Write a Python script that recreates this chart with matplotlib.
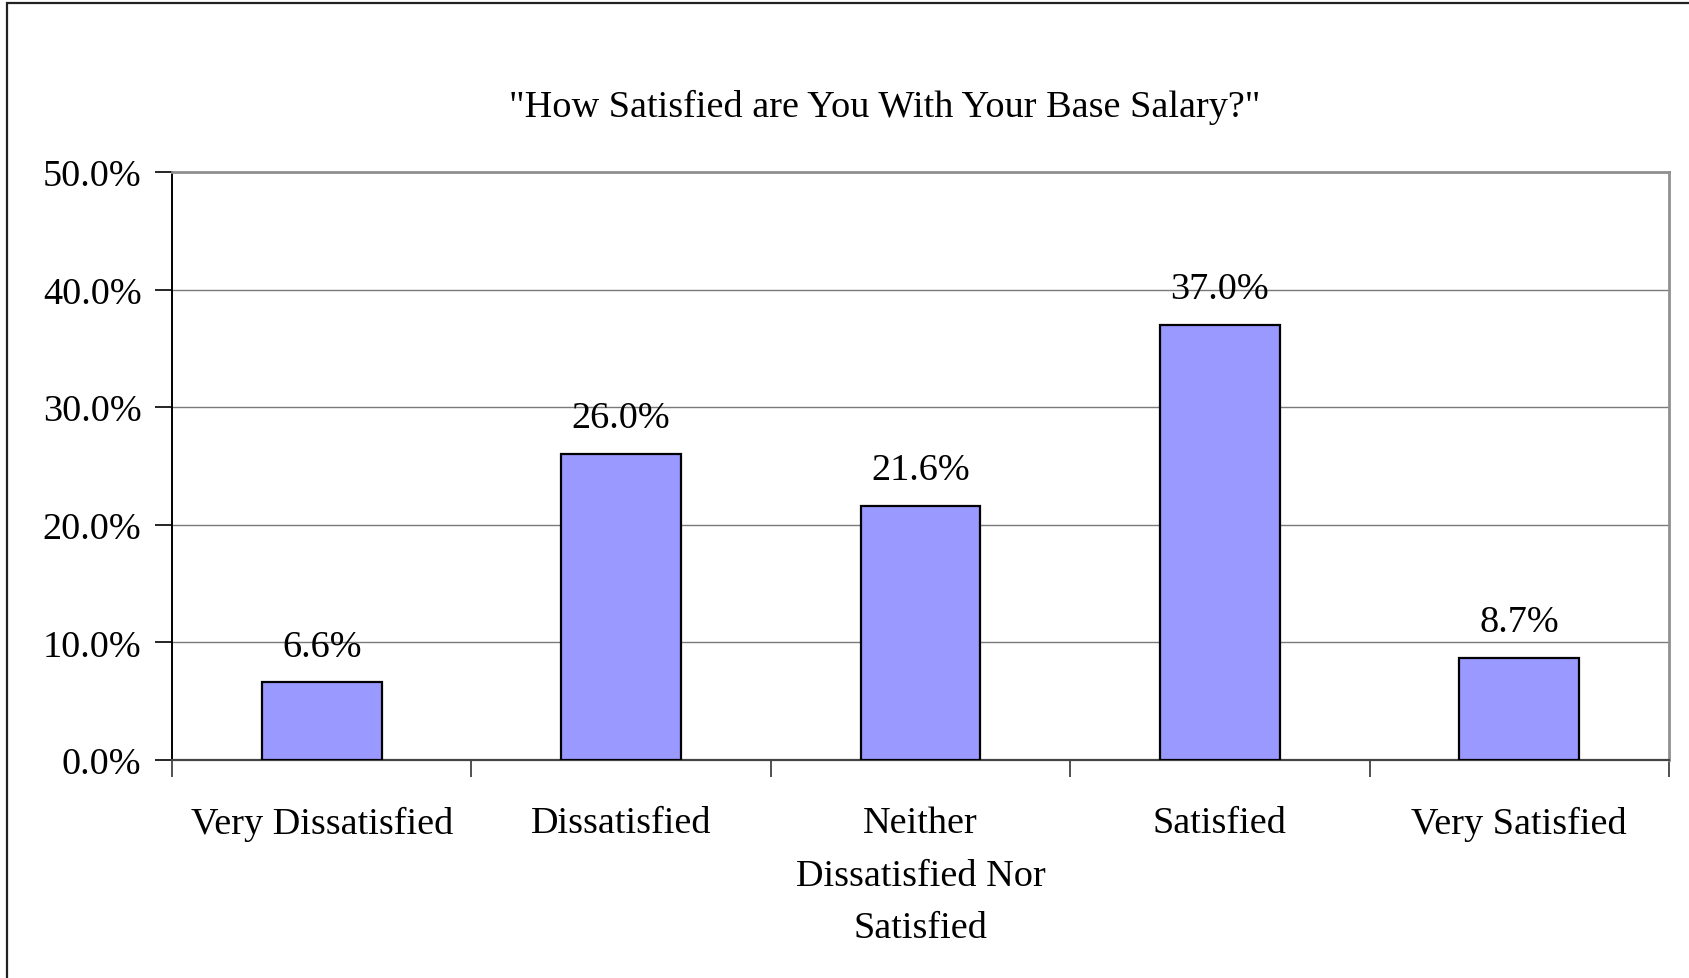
import matplotlib
matplotlib.use("Agg")
import matplotlib.pyplot as plt
from matplotlib.patches import Rectangle
from matplotlib.ticker import FuncFormatter

categories = ["Very Dissatisfied", "Dissatisfied", "Neither\nDissatisfied Nor\nSatisfied",
              "Satisfied", "Very Satisfied"]
values = [6.6, 26.0, 21.6, 37.0, 8.7]
title = "\"How Satisfied are You With Your Base Salary?\""

W, H = 1690, 979
fig = plt.figure(figsize=(W / 100, H / 100), dpi=100)
plt.rcParams['font.family'] = ['Liberation Serif', 'DejaVu Serif']
FS = 27.5

# outer frame
fig.add_artist(Rectangle((7 / W, -0.05), 1.1, 1 - 4 / H + 0.05, transform=fig.transFigure,
                         fill=False, edgecolor='#222222', linewidth=1.6))

ax = fig.add_axes([172 / W, 1 - 761 / H, (1669 - 172) / W, (761 - 173) / H])
n = len(categories)
x = list(range(n))
ax.bar(x, values, width=0.4, color='#9999FF', edgecolor='black', linewidth=1.6, zorder=3)
ax.set_xlim(-0.5, n - 0.5)
ax.set_ylim(0, 50)
ax.set_yticks([0, 10, 20, 30, 40, 50])
ax.yaxis.set_major_formatter(FuncFormatter(lambda v, p: f"{v:.1f}%"))
ax.grid(axis='y', color='#7a7a7a', linewidth=1.0, zorder=0)
ax.set_axisbelow(True)

ax.set_xticks([i - 0.5 for i in range(n + 1)])
ax.set_xticklabels([])
ax.set_xticks(x, minor=True)
ax.set_xticklabels(categories, minor=True, fontsize=FS, linespacing=1.68)
ax.tick_params(axis='x', which='major', length=12, width=1.2, color='#333333', direction='out')
ax.tick_params(axis='x', which='minor', length=0, pad=33)
ax.tick_params(axis='y', length=12, width=1.2, color='black', labelsize=FS, pad=10)

for s in ['top', 'right']:
    ax.spines[s].set_color('#909090')
    ax.spines[s].set_linewidth(2)
ax.spines['left'].set_color('black')
ax.spines['left'].set_linewidth(1.4)
ax.spines['bottom'].set_color('#444444')
ax.spines['bottom'].set_linewidth(1.6)

for xi, v in zip(x, values):
    ax.annotate(f"{v:.1f}%", (xi, v), xytext=(0, 26), textcoords='offset points',
                ha='center', va='center', fontsize=FS)

fig.text(885 / W, 1 - 107 / H, title, ha='center', va='center', fontsize=FS)

fig.savefig("out.png", dpi=100)
